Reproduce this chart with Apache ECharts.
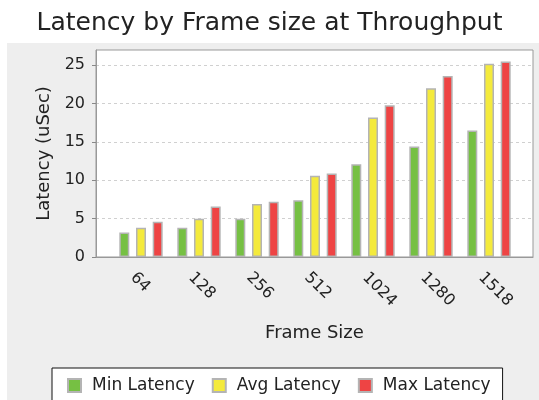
<!DOCTYPE html>
<html>
<head>
<meta charset="utf-8">
<script src="https://cdn.jsdelivr.net/npm/echarts@6/dist/echarts.min.js"></script>
<style>
    html, body { margin: 0; padding: 0; background: #fff; }
    #chart { width: 539px; height: 400px; }
</style>
</head>
<body>
<div id="chart"></div>
<script>
    // values (uSec)
    var frameSizes = ['64', '128', '256', '512', '1024', '1280', '1518'];
    var minLatency = [3.2, 3.8, 5.0, 7.4, 12.1, 14.4, 16.5];
    var avgLatency = [3.8, 5.0, 6.9, 10.6, 18.2, 22.0, 25.2];
    var maxLatency = [4.6, 6.6, 7.2, 10.9, 19.8, 23.6, 25.5];
    var yTicks = [0, 5, 10, 15, 20, 25];

    var font = 'DejaVu Sans';
    var chart = echarts.init(document.getElementById('chart'));

    function bar(name, data, color) {
        return {
            name: name,
            type: 'bar',
            xAxisIndex: 1,
            yAxisIndex: 1,
            barWidth: 10,
            barGap: '67%',
            data: data,
            itemStyle: {color: color, borderColor: '#b4b4b4', borderWidth: 1.5}
        };
    }

    var option = {
        backgroundColor: '#fff',
        animation: false,
        graphic: [{
            type: 'rect', left: 7, top: 43, z: -10,
            shape: {width: 532, height: 357},
            style: {fill: '#eeeeee'}
        }],
        title: {
            text: 'Latency by Frame size at Throughput',
            left: 'center',
            top: 6,
            textStyle: {fontFamily: font, fontSize: 25, fontWeight: 'normal', color: '#222'}
        },
        legend: {
            left: 52,
            top: 368,
            padding: [9, 12, 20, 15],
            itemWidth: 13,
            itemHeight: 13,
            itemGap: 17,
            icon: 'rect',
            borderColor: '#111',
            borderWidth: 1,
            backgroundColor: '#fff',
            textStyle: {fontFamily: font, fontSize: 17, color: '#222', padding: [0, 0, 0, 6]},
            data: ['Min Latency', 'Avg Latency', 'Max Latency']
        },
        grid: [
            {left: 96, top: 50, right: 6, bottom: 143, show: true, backgroundColor: '#fff', borderColor: '#999', borderWidth: 1},
            {left: 112, top: 50, right: 21, bottom: 143},
            {left: 104, top: 50, right: 29, bottom: 143}
        ],
        xAxis: [
            {
                gridIndex: 0, type: 'category', data: frameSizes,
                axisLine: {lineStyle: {color: '#999'}},
                axisTick: {show: false}, axisLabel: {show: false},
                name: 'Frame Size', nameLocation: 'middle', nameGap: 67,
                nameTextStyle: {fontFamily: font, fontSize: 18, color: '#222'}
            },
            {gridIndex: 1, type: 'category', data: frameSizes, show: false},
            {
                gridIndex: 2, type: 'category', data: frameSizes,
                axisLine: {show: false}, axisTick: {show: false},
                axisLabel: {rotate: -45, margin: 18, fontFamily: font, fontSize: 16, color: '#222'}
            }
        ],
        yAxis: [
            {
                gridIndex: 0, type: 'value', min: 0, max: 27, interval: 5,
                axisLine: {show: true, lineStyle: {color: '#999'}},
                axisTick: {show: true, length: 4, customValues: yTicks, lineStyle: {color: '#888'}},
                axisLabel: {margin: 11, customValues: yTicks, fontFamily: font, fontSize: 16, color: '#222'},
                splitLine: {show: true, lineStyle: {color: '#d0d0d0', type: [3, 3]}},
                name: 'Latency (uSec)', nameLocation: 'middle', nameGap: 41,
                nameTextStyle: {fontFamily: font, fontSize: 18, color: '#222'}
            },
            {gridIndex: 1, type: 'value', min: 0, max: 27, show: false},
            {gridIndex: 2, type: 'value', min: 0, max: 27, show: false}
        ],
        series: [
            bar('Min Latency', minLatency, '#76c043'),
            bar('Avg Latency', avgLatency, '#f4ea3c'),
            bar('Max Latency', maxLatency, '#ee4444')
        ]
    };
    chart.setOption(option);
</script>
</body>
</html>
